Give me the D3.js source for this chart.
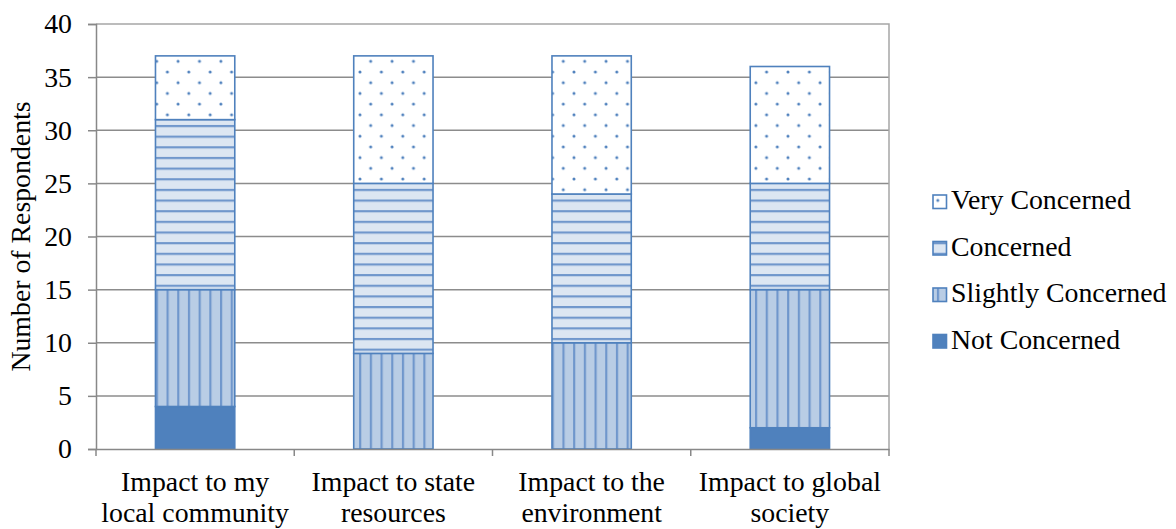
<!DOCTYPE html>
<html>
<head>
<meta charset="utf-8">
<script src="https://cdn.jsdelivr.net/npm/d3@7"></script>
<style>
  html, body { margin: 0; padding: 0; background: #fff; }
  svg { display: block; }
</style>
</head>
<body>
<svg id="chart" width="1176" height="529"></svg>
<script>
const categories = [
  ["Impact to my", "local community"],
  ["Impact to state", "resources"],
  ["Impact to the", "environment"],
  ["Impact to global", "society"]
];
const seriesNames = ["Not Concerned", "Slightly Concerned", "Concerned", "Very Concerned"];
const notConcerned = [4, 0, 0, 2];
const slightlyConcerned = [11, 9, 10, 13];
const concerned = [16, 16, 14, 10];
const veryConcerned = [6, 12, 13, 11];
const yTicks = [0, 5, 10, 15, 20, 25, 30, 35, 40];
const yTitle = "Number of Respondents";

(function () {
const FONT = "'Liberation Serif', 'Times New Roman', Times, serif";
const FS = "27.8px";
const svg = d3.select("#chart");
const blue = "#4f81bd";
const stripe = "#7097cc";

const defs = svg.append("defs");
const P = 21.4;
const pDots = defs.append("pattern").attr("id", "pDots")
  .attr("patternUnits", "userSpaceOnUse").attr("width", P).attr("height", P)
  .attr("x", 6.9).attr("y", 18.5);
pDots.append("rect").attr("width", P).attr("height", P).attr("fill", "#fff");
[[0,0],[P,0],[0,P],[P,P],[P/2,P/2]].forEach(p =>
  pDots.append("circle").attr("cx", p[0]).attr("cy", p[1]).attr("r", 1.5).attr("fill", blue));
const pH = defs.append("pattern").attr("id", "pH")
  .attr("patternUnits", "userSpaceOnUse").attr("width", 10).attr("height", 10.65).attr("y", 7.8);
pH.append("rect").attr("width", 10).attr("height", 10.65).attr("fill", "#dce6f2");
pH.append("rect").attr("y", 0).attr("width", 10).attr("height", 2.2).attr("fill", stripe);
const pV = defs.append("pattern").attr("id", "pV")
  .attr("patternUnits", "userSpaceOnUse").attr("width", 10.7).attr("height", 10).attr("x", 6);
pV.append("rect").attr("width", 10.7).attr("height", 10).attr("fill", "#b9cde5");
pV.append("rect").attr("x", 0).attr("width", 2.2).attr("height", 10).attr("fill", stripe);

const fills = {
  "Not Concerned": blue,
  "Slightly Concerned": "url(#pV)",
  "Concerned": "url(#pH)",
  "Very Concerned": "url(#pDots)"
};

const pl = 96, pr = 889, pt = 24, pb = 449;
const y = d3.scaleLinear().domain([0, 40]).range([pb, pt]);
const catKeys = categories.map(c => c.join(" "));
const x = d3.scaleBand().domain(catKeys).range([pl, pr]).paddingInner(0.6).paddingOuter(0.3);

svg.append("g").selectAll("line").data(yTicks.filter(t => t > 0 && t < 40)).join("line")
  .attr("x1", pl).attr("x2", pr)
  .attr("y1", d => y(d)).attr("y2", d => y(d))
  .attr("stroke", "#8c8c8c").attr("stroke-width", 1.5);
svg.append("path")
  .attr("d", `M${pl},${y(40)}H${pr}V${pb}`)
  .attr("fill", "none").attr("stroke", "#a6a6a6").attr("stroke-width", 1.5);

const rows = catKeys.map((k, i) => ({
  key: k,
  "Not Concerned": notConcerned[i],
  "Slightly Concerned": slightlyConcerned[i],
  "Concerned": concerned[i],
  "Very Concerned": veryConcerned[i]
}));
const stack = d3.stack().keys(seriesNames)(rows);
const barG = svg.append("g");
stack.forEach(layer => {
  barG.append("g").selectAll("rect").data(layer.filter(d => d[1] > d[0])).join("rect")
    .attr("x", d => x(d.data.key))
    .attr("width", x.bandwidth())
    .attr("y", d => y(d[1]))
    .attr("height", d => y(d[0]) - y(d[1]))
    .attr("fill", fills[layer.key])
    .attr("stroke", blue)
    .attr("stroke-width", 1.6);
});

const yAxis = d3.axisLeft(y).tickValues(yTicks).tickSize(8).tickPadding(16);
const yg = svg.append("g").attr("transform", `translate(${pl},0)`).call(yAxis);
yg.select(".domain").attr("stroke", "#888").attr("stroke-width", 1.5);
yg.selectAll(".tick line").attr("stroke", "#888").attr("stroke-width", 1.5);
yg.selectAll(".tick text").style("font-family", FONT).style("font-size", FS).attr("fill", "#000");

const xAxis = d3.axisBottom(x).tickSize(0).tickFormat("");
const xg = svg.append("g").attr("transform", `translate(0,${pb})`).call(xAxis);
xg.select(".domain").attr("stroke", "#888").attr("stroke-width", 1.5);
const bounds = catKeys.map(k => x(k) - x.step() * x.paddingOuter()).concat([pr]);
xg.selectAll("line.sep").data(bounds).join("line").attr("class", "sep")
  .attr("x1", d => d).attr("x2", d => d).attr("y1", 0).attr("y2", 7)
  .attr("stroke", "#888").attr("stroke-width", 1.5);

const labG = svg.append("g");
categories.forEach((c, i) => {
  const cx = x(catKeys[i]) + x.bandwidth() / 2;
  const t = labG.append("text").attr("text-anchor", "middle")
    .style("font-family", FONT).style("font-size", FS).attr("fill", "#000");
  t.append("tspan").attr("x", cx).attr("y", 491).text(c[0]);
  t.append("tspan").attr("x", cx).attr("y", 522).text(c[1]);
});

svg.append("text")
  .attr("transform", `translate(30,${(pt + pb) / 2}) rotate(-90)`)
  .attr("text-anchor", "middle")
  .style("font-family", FONT).style("font-size", FS).attr("fill", "#000")
  .text(yTitle);

const legendOrder = ["Very Concerned", "Concerned", "Slightly Concerned", "Not Concerned"];
const lg = svg.append("g");
legendOrder.forEach((name, i) => {
  const base = 209 + i * 46.5;
  lg.append("rect").attr("x", 933).attr("y", base - 14).attr("width", 13.5).attr("height", 13.5)
    .attr("fill", fills[name]).attr("stroke", blue).attr("stroke-width", 1.6);
  lg.append("text").attr("x", 951).attr("y", base)
    .style("font-family", FONT).style("font-size", FS).attr("fill", "#000").text(name);
});
})();
</script>
</body>
</html>
